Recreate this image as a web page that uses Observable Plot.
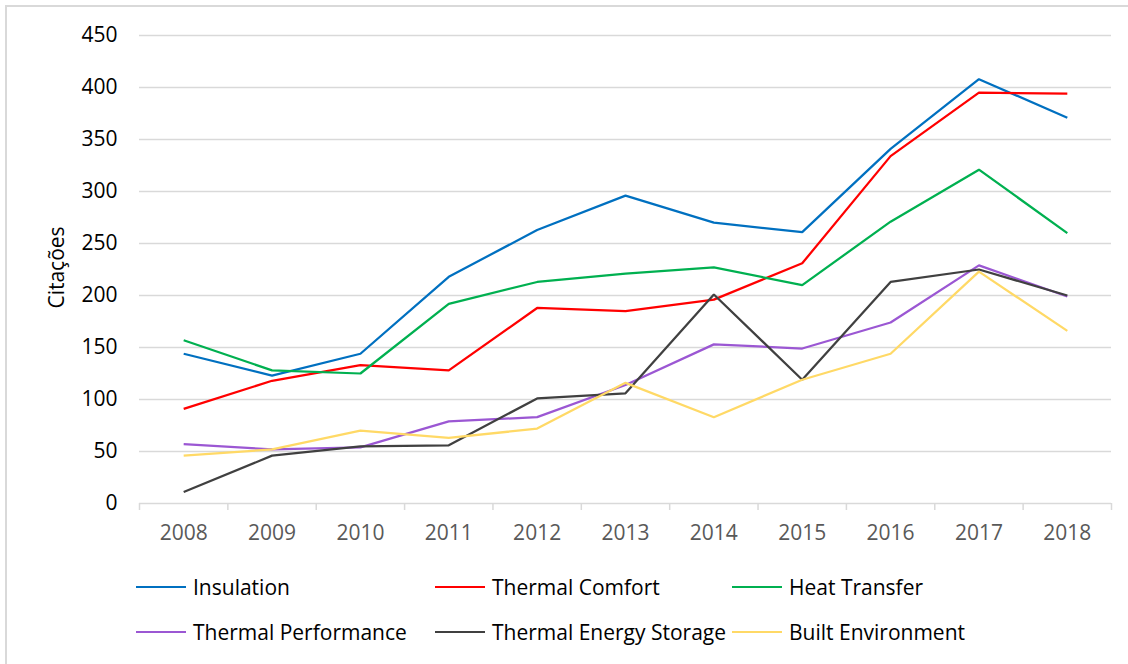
<!DOCTYPE html>
<html>
<head>
<meta charset="utf-8">
<script src="https://cdn.jsdelivr.net/npm/d3@7"></script>
<script src="https://cdn.jsdelivr.net/npm/@observablehq/plot@0.6"></script>
<style>
  html, body { margin: 0; padding: 0; background: #fff; overflow: hidden; }
  body { width: 1128px; height: 664px; position: relative; font-family: "Open Sans", sans-serif; }
  #frame { position: absolute; left: 5px; top: 5px; width: 1200px; height: 700px;
           border-left: 2px solid #d9d9d9; border-top: 2px solid #d9d9d9; box-sizing: border-box; }
  #chart { position: absolute; left: 0; top: 0; }
  #legend { position: absolute; left: 0; top: 0; width: 1128px; height: 664px; pointer-events: none; }
  .item { position: absolute; display: flex; align-items: center; font-size: 21px; color: #000; white-space: nowrap; }
  .sw { width: 50px; height: 2.5px; margin-right: 7px; }
</style>
</head>
<body>
<div id="frame"></div>
<div id="chart"></div>
<div id="legend"></div>
<script>
const years = [2008, 2009, 2010, 2011, 2012, 2013, 2014, 2015, 2016, 2017, 2018];
const yTicks = [0, 50, 100, 150, 200, 250, 300, 350, 400, 450];
const seriesNames = ["Insulation", "Thermal Comfort", "Heat Transfer", "Thermal Performance", "Thermal Energy Storage", "Built Environment"];
const seriesColors = ["#0070C0", "#FF0000", "#00B050", "#9B57D3", "#404040", "#FFD966"];

const insulation         = [144, 123, 144, 218, 263, 296, 270, 261, 341, 408, 371];
const thermalComfort     = [91, 118, 133, 128, 188, 185, 196, 231, 334, 395, 394];
const heatTransfer       = [157, 128, 125, 192, 213, 221, 227, 210, 271, 321, 260];
const thermalPerformance = [57, 52, 54, 79, 83, 114, 153, 149, 174, 229, 199];
const thermalEnergyStor  = [11, 46, 55, 56, 101, 106, 201, 119, 213, 225, 200];
const builtEnvironment   = [46, 52, 70, 63, 72, 116, 83, 119, 144, 223, 166];

const seriesValues = [insulation, thermalComfort, heatTransfer, thermalPerformance, thermalEnergyStor, builtEnvironment];

const data = [];
seriesNames.forEach((name, s) => {
  years.forEach((yr, i) => data.push({series: name, year: yr, value: seriesValues[s][i]}));
});

const boundaries = [years[0] - 0.5, ...years.map(y => y + 0.5)];

const chart = Plot.plot({
  width: 1128,
  height: 540,
  marginTop: 35,
  marginBottom: 37,
  marginLeft: 139,
  marginRight: 17,
  style: {fontFamily: "'Open Sans', sans-serif", fontSize: "21px", background: "transparent", overflow: "visible"},
  x: {type: "linear", domain: [years[0] - 0.5, years[years.length - 1] + 0.5]},
  y: {domain: [0, 450]},
  color: {domain: seriesNames, range: seriesColors},
  marks: [
    Plot.gridY(yTicks.filter(d => d > 0), {stroke: "#d9d9d9", strokeOpacity: 1, strokeWidth: 1.3}),
    Plot.ruleY([0], {stroke: "#d9d9d9", strokeWidth: 1.6}),
    Plot.axisX({ticks: boundaries, tickSize: 7, tickFormat: () => "", stroke: "#d9d9d9", strokeWidth: 1.5, label: null}),
    Plot.axisX({ticks: years, tickSize: 0, tickPadding: 22, tickFormat: d => String(d), fill: "#595959", fontSize: 21, label: null}),
    Plot.axisY({ticks: yTicks, tickSize: 0, tickPadding: 22, fill: "#000", fontSize: 21, label: null}),
    Plot.text(["Citações"], {frameAnchor: "left", textAnchor: "middle", lineAnchor: "middle", rotate: -90, dx: -82, dy: -2, fontSize: 21, fill: "#000"}),
    Plot.line(data, {x: "year", y: "value", z: "series", stroke: "series", strokeWidth: 2.25, strokeLinejoin: "miter", strokeLinecap: "butt"})
  ]
});
document.getElementById("chart").appendChild(chart);

// Legend (HTML, below the plot area)
const legendPos = [
  {left: 136, top: 587}, {left: 435, top: 587}, {left: 732, top: 587},
  {left: 136, top: 632}, {left: 435, top: 632}, {left: 732, top: 632}
];
const legend = document.getElementById("legend");
seriesNames.forEach((name, i) => {
  const item = document.createElement("div");
  item.className = "item";
  item.style.left = legendPos[i].left + "px";
  item.style.top = (legendPos[i].top - 14) + "px";
  item.style.height = "28px";
  const sw = document.createElement("div");
  sw.className = "sw";
  sw.style.background = seriesColors[i];
  const t = document.createElement("span");
  t.textContent = name;
  item.appendChild(sw);
  item.appendChild(t);
  legend.appendChild(item);
});
</script>
</body>
</html>
